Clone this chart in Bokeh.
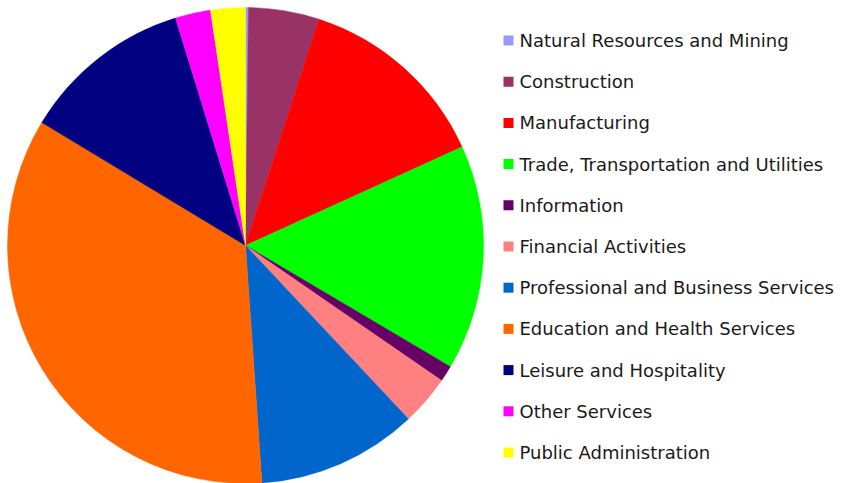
import numpy as np
from bokeh.plotting import figure
from bokeh.models import ColumnDataSource, Range1d
from bokeh.core.properties import value
from bokeh.embed import file_html
from bokeh.resources import INLINE

categories = [
    "Natural Resources and Mining",
    "Construction",
    "Manufacturing",
    "Trade, Transportation and Utilities",
    "Information",
    "Financial Activities",
    "Professional and Business Services",
    "Education and Health Services",
    "Leisure and Hospitality",
    "Other Services",
    "Public Administration",
]
shares = [0.2, 4.8, 13.2, 15.3, 1.1, 3.4, 10.9, 34.75, 11.6, 2.4, 2.35]
colors = ["#9999FF", "#993366", "#FF0000", "#00FF00", "#660066", "#FF8080",
          "#0066CC", "#FF6600", "#000080", "#FF00FF", "#FFFF00"]

W, H = 845, 483
vals = np.array(shares, dtype=float)
frac = vals / vals.sum()
cum_end = np.cumsum(frac)
cum_start = cum_end - frac
start_angle = np.pi / 2 - 2 * np.pi * cum_start
end_angle = np.pi / 2 - 2 * np.pi * cum_end

src = ColumnDataSource(dict(cat=categories, color=colors,
                            start=start_angle, end=end_angle))

p = figure(width=W, height=H, output_backend="svg", toolbar_location=None,
           x_range=Range1d(0, W), y_range=Range1d(0, H), min_border=0,
           background_fill_color="white", border_fill_color="white")
p.axis.visible = False
p.grid.visible = False
p.outline_line_color = None

cx, cy, r = 245, 238, 238
p.wedge(x=cx, y=cy, radius=r, start_angle="start", end_angle="end",
        direction="clock", fill_color="color", line_color="color",
        line_width=0.5, source=src)

# legend
n = len(categories)
row_y = 443 - 41.2 * np.arange(n)
lsrc = ColumnDataSource(dict(x=[508] * n, tx=[519] * n, y=row_y,
                             color=colors, label=categories))
p.rect(x="x", y="y", width=10, height=10, fill_color="color", line_color=None,
       source=lsrc)
p.text(x="tx", y="y", text="label", text_baseline="middle", text_align="left",
       text_font=value("DejaVu Sans"), text_font_size="18px",
       text_color="#1a1a1a", source=lsrc)

open("out.html", "w").write(file_html(p, INLINE))
